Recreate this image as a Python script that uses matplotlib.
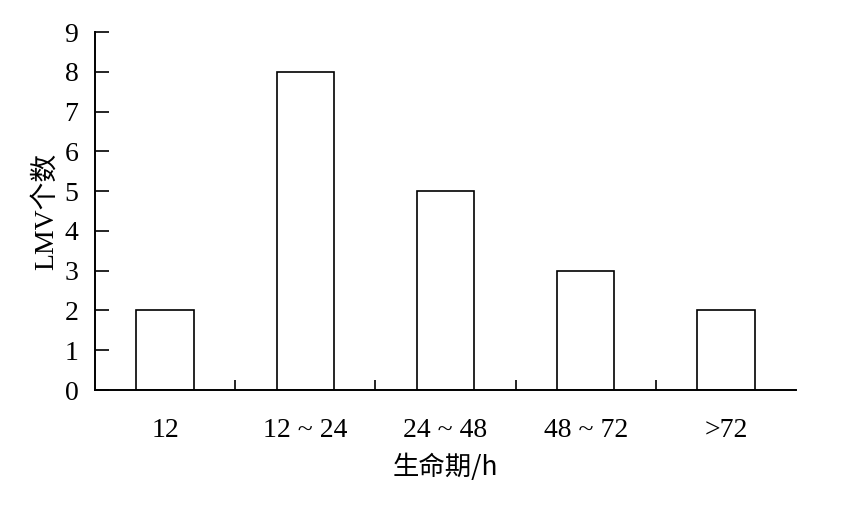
import matplotlib
matplotlib.use("Agg")
import matplotlib.pyplot as plt
import numpy as np

categories = ["12", "12 ~ 24", "24 ~ 48", "48 ~ 72", ">72"]
counts = [2, 8, 5, 3, 2]
yticks = list(range(0, 10))

plt.rcParams['font.family'] = ['Liberation Serif', 'Noto Sans CJK SC', 'DejaVu Sans']

fig = plt.figure(figsize=(8.5, 5.12), dpi=100)
ax = fig.add_axes([95/850, 1-390/512, (796-95)/850, (390-32)/512])

x = np.arange(len(categories))
ax.bar(x, counts, width=0.41, color='white', edgecolor='black', linewidth=1.2)

ax.set_xlim(-0.5, 4.5)
ax.set_ylim(0, 9)
ax.set_yticks(yticks)
ax.set_xticks(x)
ax.set_xticklabels(categories, fontsize=20)
ax.set_xticks(x[:-1] + 0.5, minor=True)
ax.tick_params(axis='x', which='major', length=0, pad=20)
ax.tick_params(axis='x', which='minor', length=7, direction='in', width=1.2)
ax.tick_params(axis='y', which='major', length=10, direction='in', width=1.2, labelsize=20, pad=12)

for s in ['top', 'right']:
    ax.spines[s].set_visible(False)
for s in ['left', 'bottom']:
    ax.spines[s].set_linewidth(1.4)

ax.set_ylabel("LMV个数", fontsize=20, labelpad=4,
              family=['Liberation Serif', 'Noto Sans CJK SC'])
ax.set_xlabel("生命期/h", fontsize=19, labelpad=8,
              family=['Noto Sans CJK SC', 'Liberation Serif'])

fig.savefig("out.png", dpi=100)
